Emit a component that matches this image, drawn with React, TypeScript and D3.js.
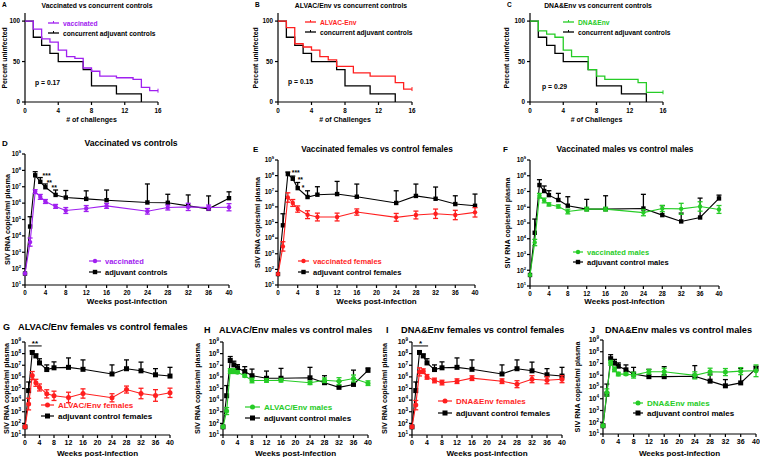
import React, { useEffect, useRef } from 'react';
import * as d3 from 'd3';

const PURPLE = '#a020f0';
const RED = '#ff1f1f';
const GREEN = '#26cc26';
const FONT = '"Liberation Sans", Arial, sans-serif';

// survival curves: challenge number where the step happens, percent uninfected after it
const ctrlKmT = [0, 1, 2, 3, 4, 7, 8, 11, 14];
const ctrlKmS = [100, 80, 70, 60, 50, 40, 20, 10, 0];
const vaccKmT = [0, 1, 2, 3, 4, 5, 6, 7, 8, 9, 11, 13, 14, 15, 16];
const vaccKmS = [100, 90, 78, 74, 64, 56, 54, 42, 38, 32, 30, 28, 18, 14, 14];
const alvacKmT = [0, 1, 2, 3, 4, 5, 6, 7, 9, 11, 14, 15, 16];
const alvacKmS = [100, 92, 72, 68, 64, 56, 52, 44, 36, 32, 24, 16, 16];
const dnaKmT = [0, 1, 2, 3, 4, 5, 7, 8, 9, 13, 14, 16];
const dnaKmS = [100, 88, 84, 80, 64, 56, 40, 32, 28, 24, 12, 12];
const challengeTicks = [0, 4, 8, 12, 16];
const percentTicks = [0, 50, 100];

// viral load, log10 copies/ml, with SEM (log10)
const weeks = [0, 1, 2, 3, 4, 6, 8, 12, 16, 24, 28, 32, 36, 40];
const weekTicks = [0, 4, 8, 12, 16, 20, 24, 28, 32, 36, 40];
const decades = [1, 2, 3, 4, 5, 6, 7, 8, 9];

const ctrlAll = [1.7, 4.57, 7.7, 7.3, 6.97, 6.5, 6.34, 6.26, 6.18, 6.04, 6.02, 5.83, 5.65, 6.3];
const ctrlAllErr = [0, 0.6, 0.22, 0.26, 0.2, 0.3, 0.43, 0.49, 0.62, 1.13, 0.52, 0.67, 0.79, 0.39];
const vaccAll = [1.7, 3.62, 6.7, 6.38, 6.1, 5.8, 5.55, 5.67, 5.83, 5.5, 5.73, 5.77, 5.73, 5.75];
const vaccAllErr = [0, 0.25, 0.12, 0.15, 0.12, 0.12, 0.18, 0.18, 0.15, 0.17, 0.15, 0.22, 0.15, 0.22];

const ctrlFem = [1.7, 4.82, 8.1, 7.8, 7.2, 6.63, 6.78, 6.82, 6.65, 6.25, 6.7, 6.52, 6.18, 6.07];
const ctrlFemErr = [0, 0.74, 0.13, 0.17, 0.36, 0.4, 0.51, 0.81, 0.81, 0.78, 0.76, 0.75, 0.53, 0.75];
const vaccFem = [1.7, 3.47, 6.6, 6.25, 5.86, 5.5, 5.35, 5.35, 5.67, 5.33, 5.48, 5.56, 5.48, 5.65];
const vaccFemErr = [0, 0.3, 0.3, 0.22, 0.2, 0.25, 0.25, 0.25, 0.2, 0.25, 0.25, 0.3, 0.3, 0.3];

const ctrlMale = [1.7, 4.38, 7.41, 7.03, 6.77, 6.46, 6.1, 5.88, 5.88, 5.92, 5.5, 5.1, 5.35, 6.56];
const ctrlMaleErr = [0, 0.87, 0.34, 0.32, 0.28, 0.42, 0.57, 0.62, 0.85, 0.9, 0.6, 0.53, 1.23, 0.21];
const vaccMale = [1.7, 3.76, 6.73, 6.43, 6.18, 6.05, 5.73, 5.88, 5.88, 5.66, 5.92, 5.9, 6.05, 5.86];
const vaccMaleErr = [0, 0.2, 0.15, 0.15, 0.1, 0.1, 0.15, 0.12, 0.12, 0.2, 0.2, 0.35, 0.3, 0.25];

const alvacFem = [1.7, 3.66, 6.11, 5.49, 5.09, 4.54, 4.37, 4.23, 4.57, 4.2, 4.91, 4.57, 4.4, 4.63];
const alvacFemErr = [0, 0.5, 0.35, 0.3, 0.3, 0.35, 0.4, 0.45, 0.4, 0.35, 0.3, 0.45, 0.5, 0.4];
const alvacMale = [1.7, 3.06, 6.5, 6.49, 6.4, 6.09, 5.69, 5.69, 5.71, 5.49, 5.71, 5.63, 5.86, 5.46];
const alvacMaleErr = [0, 0.3, 0.2, 0.2, 0.1, 0.1, 0.2, 0.15, 0.15, 0.15, 0.2, 0.3, 0.3, 0.2];
const dnaFem = [1.7, 3.57, 6.43, 6.49, 6.0, 5.69, 5.51, 5.63, 5.89, 5.63, 5.37, 5.8, 5.71, 5.8];
const dnaFemErr = [0, 0.4, 0.35, 0.2, 0.2, 0.2, 0.2, 0.2, 0.2, 0.2, 0.3, 0.3, 0.3, 0.3];
const dnaMale = [1.7, 4.54, 7.06, 6.5, 6.1, 6.1, 6.01, 6.3, 6.3, 5.99, 6.3, 6.27, 6.35, 6.38];
const dnaMaleErr = [0, 0.3, 0.2, 0.2, 0.15, 0.1, 0.25, 0.2, 0.3, 0.3, 0.3, 0.3, 0.3, 0.5];

const kmPanels = [
  { letter: 'A', title: 'Vaccinated vs concurrent controls', xlab: '# of challenges', t: vaccKmT, s: vaccKmS, color: PURPLE, name: 'vaccinated', p: 'p = 0.17',
    x0: 25, x1: 158, tc: 97, lx: 48, tx: 63, ly: 23, px: 35, py: 85, yl: 4 },
  { letter: 'B', title: 'ALVAC/Env vs concurrent controls', xlab: '# of Challenges', t: alvacKmT, s: alvacKmS, color: RED, name: 'ALVAC-Env', p: 'p = 0.15',
    x0: 278, x1: 412, tc: 351, lx: 305, tx: 320, ly: 22, px: 288, py: 84, yl: 255 },
  { letter: 'C', title: 'DNA&Env vs concurrent controls', xlab: '# of Challenges', t: dnaKmT, s: dnaKmS, color: GREEN, name: 'DNA&Env', p: 'p = 0.29',
    x0: 530, x1: 663, tc: 598, lx: 563, tx: 578, ly: 22, px: 542, py: 89, yl: 506 },
];

const vlPanels = [
  { letter: 'D', lxl: 2, title: 'Vaccinated vs controls', ts: 8.6, ty: 146, tc: 131, v: vaccAll, e: vaccAllErr, c: ctrlAll, ce: ctrlAllErr, color: PURPLE,
    name: 'vaccinated', cname: 'adjuvant controls', x0: 25, x1: 229, yTop: 154, yBot: 285, yl: 7, lx: 89, tx: 105, ly: 261, lgap: 11, fs: 7.5, big: false,
    stars: [{ w: 3.45, v: 7.78, t: '***' }, { w: 4.25, v: 7.41, t: '**' }, { w: 5.2, v: 7.05, t: '**' }], bracket: null },
  { letter: 'E', lxl: 253, title: 'Vaccinated females vs control females', ts: 8.3, ty: 152, tc: 377, v: vaccFem, e: vaccFemErr, c: ctrlFem, ce: ctrlFemErr, color: RED,
    name: 'vaccinated females', cname: 'adjuvant control females', x0: 278, x1: 475, yTop: 160, yBot: 285, yl: 257, lx: 298, tx: 313, ly: 261, lgap: 11, fs: 7.5, big: false,
    stars: [{ w: 2.8, v: 8.36, t: '***' }, { w: 4.0, v: 7.91, t: '**' }, { w: 4.8, v: 7.34, t: '*' }], bracket: null },
  { letter: 'F', lxl: 503, title: 'Vaccinated males vs control males', ts: 8.3, ty: 152, tc: 625, v: vaccMale, e: vaccMaleErr, c: ctrlMale, ce: ctrlMaleErr, color: GREEN,
    name: 'vaccinated males', cname: 'adjuvant control males', x0: 530, x1: 719, yTop: 160, yBot: 286, yl: 507, lx: 573, tx: 587, ly: 252, lgap: 10, fs: 7.5, big: false,
    stars: [], bracket: null },
  { letter: 'G', lxl: 3, title: 'ALVAC/Env females vs control females', ts: 9.2, ty: 330, tc: 0, v: alvacFem, e: alvacFemErr, c: ctrlFem, ce: ctrlFemErr, color: RED,
    name: 'ALVAC/Env females', cname: 'adjuvant control females', x0: 25, x1: 170, yTop: 342, yBot: 435, yl: 6, lx: 41, tx: 58, ly: 405, lgap: 11, fs: 8, big: true,
    stars: [], bracket: { a: 0.9, b: 4.6, v: 8.66, t: '**' } },
  { letter: 'H', lxl: 204, title: 'ALVAC/Env males vs control males', ts: 9.2, ty: 333, tc: 0, v: alvacMale, e: alvacMaleErr, c: ctrlMale, ce: ctrlMaleErr, color: GREEN,
    name: 'ALVAC/Env males', cname: 'adjuvant control males', x0: 223, x1: 368, yTop: 342, yBot: 435, yl: 197, lx: 245, tx: 264, ly: 407, lgap: 11, fs: 8, big: true,
    stars: [], bracket: null },
  { letter: 'I', lxl: 386, title: 'DNA&Env females vs control females', ts: 9.2, ty: 333, tc: 0, v: dnaFem, e: dnaFemErr, c: ctrlFem, ce: ctrlFemErr, color: RED,
    name: 'DNA&Env females', cname: 'adjuvant control females', x0: 412, x1: 562, yTop: 342, yBot: 435, yl: 384, lx: 438, tx: 456, ly: 401, lgap: 12, fs: 8, big: true,
    stars: [], bracket: { a: 0.3, b: 4.3, v: 8.66, t: '*' } },
  { letter: 'J', lxl: 590, title: 'DNA&Env males vs control males', ts: 9.2, ty: 333, tc: 0, v: dnaMale, e: dnaMaleErr, c: ctrlMale, ce: ctrlMaleErr, color: GREEN,
    name: 'DNA&Env males', cname: 'adjuvant control males', x0: 603, x1: 756, yTop: 340, yBot: 434, yl: 577, lx: 633, tx: 647, ly: 403, lgap: 10, fs: 8, big: true,
    stars: [], bracket: null },
];

const txt = (g, x, y, s, size, opts: any = {}) => {
  const t = g.append('text').attr('x', x).attr('y', y).attr('font-family', FONT)
    .attr('font-weight', 'bold').attr('font-size', size).attr('fill', opts.fill || '#000')
    .attr('text-anchor', opts.anchor || 'start').text(s);
  if (opts.rotate) t.attr('transform', `rotate(-90,${x},${y})`);
  return t;
};

function drawKM(svg, p) {
  const x = d3.scaleLinear().domain([0, 16]).range([p.x0, p.x1]);
  const y = d3.scaleLinear().domain([0, 110]).range([102, 13]);
  const g = svg.append('g');

  txt(g, p.x0 - 23, 7, p.letter, 6.5);
  txt(g, p.tc, 8, p.title, 6.8, { anchor: 'middle' });

  // axes
  g.append('line').attr('x1', p.x0).attr('x2', p.x0).attr('y1', y(110)).attr('y2', y(0)).attr('stroke', '#000').attr('stroke-width', 1.2);
  g.append('line').attr('x1', p.x0).attr('x2', p.x1).attr('y1', y(0)).attr('y2', y(0)).attr('stroke', '#000').attr('stroke-width', 1.2);
  percentTicks.forEach(v => {
    g.append('line').attr('x1', p.x0 - 3).attr('x2', p.x0).attr('y1', y(v)).attr('y2', y(v)).attr('stroke', '#000').attr('stroke-width', 1.2);
    txt(g, p.x0 - 5, y(v) + 2.3, String(v), 6.3, { anchor: 'end' });
  });
  challengeTicks.forEach(v => {
    g.append('line').attr('x1', x(v)).attr('x2', x(v)).attr('y1', y(0)).attr('y2', y(0) + 3).attr('stroke', '#000').attr('stroke-width', 1.2);
    txt(g, x(v), 112.5, String(v), 6.3, { anchor: 'middle' });
  });
  txt(g, (p.x0 + p.x1) / 2, 121.5, p.xlab, 7, { anchor: 'middle' });
  txt(g, p.yl + 3, 58, 'Percent uninfected', 6.8, { anchor: 'middle', rotate: true });

  const curve = (T, S, color) => {
    const pts = T.map((t, i) => [x(t), y(S[i])] as [number, number]);
    g.append('path').attr('d', d3.line().curve(d3.curveStepAfter)(pts)).attr('fill', 'none')
      .attr('stroke', color).attr('stroke-width', 1.3);
  };
  curve(ctrlKmT, ctrlKmS, '#000');
  curve(p.t, p.s, p.color);
  // censor tick at end
  const last = p.s[p.s.length - 1];
  g.append('line').attr('x1', x(16)).attr('x2', x(16)).attr('y1', y(last) - 2).attr('y2', y(last) + 2).attr('stroke', p.color).attr('stroke-width', 1);

  // legend
  [[p.color, p.name, p.ly], ['#000', 'concurrent adjuvant controls', p.ly + 10]].forEach(([c, n, ly]) => {
    g.append('line').attr('x1', p.lx).attr('x2', p.lx + 11).attr('y1', ly).attr('y2', ly).attr('stroke', c).attr('stroke-width', 1.3);
    g.append('line').attr('x1', p.lx + 5.5).attr('x2', p.lx + 5.5).attr('y1', +ly - 2).attr('y2', ly).attr('stroke', c).attr('stroke-width', 1);
    txt(g, p.tx, +ly + 2.5, n, 6.7, { fill: c });
  });
  txt(g, p.px, p.py, p.p, 6.8);
}

function drawVL(svg, p) {
  const x = d3.scaleLinear().domain([0, 40]).range([p.x0, p.x1]);
  const y = d3.scaleLog().domain([10, 1e9]).range([p.yBot, p.yTop]);
  const Y = (v: number) => y(Math.pow(10, v));
  const g = svg.append('g');
  const tickFs = p.big ? 7 : 6.3;
  const ms = p.big ? 2.5 : 2.2;

  txt(g, p.lxl, p.ty, p.letter, p.big ? 9 : 8);
  txt(g, p.big ? (p.lxl + 15) : p.tc, p.ty, p.title, p.ts, { anchor: p.big ? 'start' : 'middle' });

  g.append('line').attr('x1', p.x0).attr('x2', p.x0).attr('y1', p.yTop).attr('y2', p.yBot).attr('stroke', '#000').attr('stroke-width', 1.2);
  g.append('line').attr('x1', p.x0).attr('x2', p.x1).attr('y1', p.yBot).attr('y2', p.yBot).attr('stroke', '#000').attr('stroke-width', 1.2);
  decades.forEach(d => {
    const yy = Y(d);
    g.append('line').attr('x1', p.x0 - 3).attr('x2', p.x0).attr('y1', yy).attr('y2', yy).attr('stroke', '#000').attr('stroke-width', 1.2);
    const t = txt(g, p.x0 - 4, yy + 2.3, '', tickFs, { anchor: 'end' });
    t.append('tspan').text('10');
    t.append('tspan').attr('dy', -3).attr('font-size', tickFs * 0.65).text(String(d));
  });
  weekTicks.forEach(w => {
    g.append('line').attr('x1', x(w)).attr('x2', x(w)).attr('y1', p.yBot).attr('y2', p.yBot + 3).attr('stroke', '#000').attr('stroke-width', 1.2);
    txt(g, x(w), p.yBot + 10, String(w), tickFs, { anchor: 'middle' });
  });
  txt(g, (p.x0 + p.x1) / 2, p.big ? 455.5 : 304, 'Weeks post-infection', p.big ? 8.1 : 8, { anchor: 'middle' });
  txt(g, p.yl + 3, (p.yTop + p.yBot) / 2, 'SIV RNA copies/ml plasma', 7.2, { anchor: 'middle', rotate: true });

  const line = d3.line<number>().x((d, i) => x(weeks[i])).y(d => Y(d));

  // controls: upper error bar only
  weeks.forEach((w, i) => {
    if (!p.ce[i]) return;
    const top = Y(p.c[i] + p.ce[i]);
    g.append('line').attr('x1', x(w)).attr('x2', x(w)).attr('y1', Y(p.c[i])).attr('y2', top).attr('stroke', '#000').attr('stroke-width', 1.3);
    g.append('line').attr('x1', x(w) - 2.5).attr('x2', x(w) + 2.5).attr('y1', top).attr('y2', top).attr('stroke', '#000').attr('stroke-width', 1.3);
  });
  g.append('path').attr('d', line(p.c)).attr('fill', 'none').attr('stroke', '#000').attr('stroke-width', 1.1);
  g.selectAll(null).data(p.c).enter().append('rect')
    .attr('x', (d, i) => x(weeks[i]) - ms).attr('y', d => Y(d) - ms)
    .attr('width', ms * 2).attr('height', ms * 2).attr('fill', '#000');

  // vaccine group: symmetric error bars
  weeks.forEach((w, i) => {
    if (!p.e[i]) return;
    const lo = Y(p.v[i] - p.e[i]);
    const hi = Y(p.v[i] + p.e[i]);
    g.append('line').attr('x1', x(w)).attr('x2', x(w)).attr('y1', lo).attr('y2', hi).attr('stroke', p.color).attr('stroke-width', 1.3);
    [lo, hi].forEach(yy => g.append('line').attr('x1', x(w) - 2.5).attr('x2', x(w) + 2.5).attr('y1', yy).attr('y2', yy).attr('stroke', p.color).attr('stroke-width', 1.3));
  });
  g.append('path').attr('d', line(p.v)).attr('fill', 'none').attr('stroke', p.color).attr('stroke-width', 1.1);
  g.selectAll(null).data(p.v).enter().append('circle')
    .attr('cx', (d, i) => x(weeks[i])).attr('cy', d => Y(d)).attr('r', ms).attr('fill', p.color);

  // asterisks sit high in their em box, so drop the baseline to centre them on the value
  p.stars.forEach(s => txt(g, x(s.w), Y(s.v) + 4.5, s.t, 6.8));
  if (p.bracket) {
    const b = p.bracket;
    g.append('line').attr('x1', x(b.a)).attr('x2', x(b.b)).attr('y1', Y(b.v)).attr('y2', Y(b.v)).attr('stroke', '#000').attr('stroke-width', 1);
    txt(g, (x(b.a) + x(b.b)) / 2, Y(b.v) + 0.5, b.t, 8, { anchor: 'middle' });
  }

  // legend
  [[p.color, p.name, p.ly, 'c'], ['#000', p.cname, p.ly + p.lgap, 's']].forEach(([c, n, ly, m]) => {
    const len = p.tx - p.lx - 4;
    g.append('line').attr('x1', p.lx).attr('x2', p.lx + len).attr('y1', ly).attr('y2', ly).attr('stroke', c).attr('stroke-width', 1.2);
    if (m === 'c') g.append('circle').attr('cx', p.lx + len / 2).attr('cy', ly).attr('r', ms).attr('fill', c);
    else g.append('rect').attr('x', p.lx + len / 2 - ms).attr('y', +ly - ms).attr('width', ms * 2).attr('height', ms * 2).attr('fill', c);
    txt(g, p.tx, +ly + 3, n, p.fs, { fill: c });
  });
}

export default function App() {
  const svgRef = useRef<SVGSVGElement>(null);

  useEffect(() => {
    const svg = d3.select(svgRef.current);
    svg.selectAll('*').remove();
    kmPanels.forEach(p => drawKM(svg, p));
    vlPanels.forEach(p => drawVL(svg, p));
  }, []);

  return (
    <svg ref={svgRef} width={760} height={457}
      style={{ position: 'absolute', left: 0, top: 0, background: '#fff' }} />
  );
}
